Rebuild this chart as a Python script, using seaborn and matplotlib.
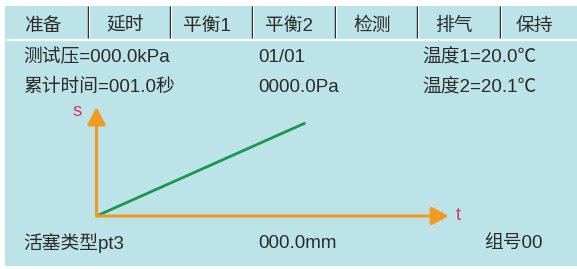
import matplotlib
matplotlib.use("Agg")
import matplotlib.pyplot as plt
import seaborn as sns
import pandas as pd
from matplotlib.patches import Rectangle

# ---- data ----
tabs = ["准备", "延时", "平衡1", "平衡2", "检测", "排气", "保持"]
row1 = ["测试压=000.0kPa", "01/01", "温度1=20.0℃"]
row2 = ["累计时间=001.0秒", "0000.0Pa", "温度2=20.1℃"]
row3 = ["活塞类型pt3", "000.0mm", "组号00"]
t_vals = [0.0, 5.9]
s_vals = [0.0, 8.5]
x_label = "t"
y_label = "s"

sns.set_theme(style="white")
plt.rcParams['font.family'] = ['Liberation Sans', 'Noto Sans CJK SC', 'DejaVu Sans']

W, H = 577, 269
fig = plt.figure(figsize=(W / 100, H / 100), dpi=100)
fig.patch.set_facecolor("white")

BG = "#bce3e8"
TXT = "#2b2b2b"
ORANGE = "#f29a1f"
GREEN = "#16984f"
PINK = "#d8346c"
FS = 13.5

# overlay axes in pixel coordinates
bg = fig.add_axes([0, 0, 1, 1])
bg.set_xlim(0, W)
bg.set_ylim(H, 0)
bg.axis("off")
bg.add_patch(Rectangle((5, 6), W - 5, 260, facecolor=BG, edgecolor="none", zorder=0))

# header tabs
cell_edges = [5, 88, 170, 252, 335, 417, 500, 577]
for xe in cell_edges[1:-1]:
    bg.plot([xe, xe], [6, 38], color="#222222", lw=1.0, solid_capstyle="butt", zorder=2)
    bg.plot([xe + 1.3, xe + 1.3], [6, 38], color="white", lw=0.8, solid_capstyle="butt", zorder=2)
bg.plot([7, W], [39.5, 39.5], color="white", lw=1.6, solid_capstyle="butt", zorder=2)

for i, lab in enumerate(tabs):
    cx = (cell_edges[i] + cell_edges[i + 1]) / 2 - 4
    bg.text(cx, 26, lab, ha="center", va="center", fontsize=FS, color=TXT)

col_x = [23, 258, 422]
for row, y in zip([row1, row2], [57.5, 87.5]):
    for x, lab in zip(col_x, row):
        bg.text(x, y, lab, ha="left", va="center", fontsize=FS, color=TXT)
for x, lab in zip([23, 258, 484], row3):
    bg.text(x, 243, lab, ha="left", va="center", fontsize=FS, color=TXT)

# chart axes
x0, x1 = 96.5, 449
y0, y1 = 216, 107
ax = fig.add_axes([x0 / W, (H - y0) / H, (x1 - x0) / W, (y0 - y1) / H])
ax.patch.set_alpha(0)
for sp in ax.spines.values():
    sp.set_visible(False)
ax.set_xticks([])
ax.set_yticks([])
ax.set_xlim(0, 10)
ax.set_ylim(0, 10)

df = pd.DataFrame({"t": t_vals, "s": s_vals})
sns.lineplot(data=df, x="t", y="s", color=GREEN, lw=2.0, ax=ax, zorder=3)
ax.set_xlabel("")
ax.set_ylabel("")

arrow_kw = dict(arrowstyle="-|>,head_length=10.5,head_width=5.5", lw=2.2, color=ORANGE,
                shrinkA=0, shrinkB=0, mutation_scale=1)
ax.annotate("", xy=(1, 0), xytext=(0, 0), xycoords="axes fraction",
            arrowprops=arrow_kw, zorder=4)
ax.annotate("", xy=(0, 1), xytext=(0, 0), xycoords="axes fraction",
            arrowprops=arrow_kw, zorder=4)

bg.text(456, 215, x_label, ha="left", va="center", fontsize=FS, color=PINK)
bg.text(77.5, 111, y_label, ha="center", va="center", fontsize=FS, color=PINK)

fig.savefig("out.png", dpi=100, facecolor="white")
